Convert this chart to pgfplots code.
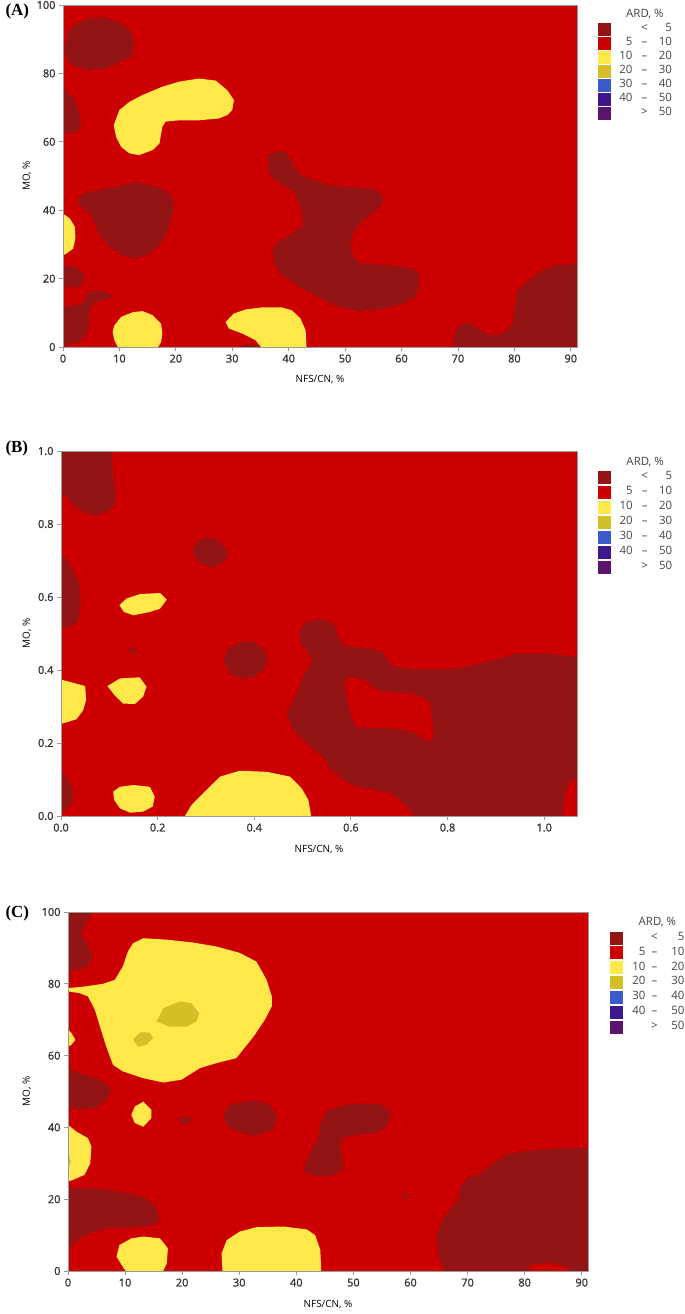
\documentclass[border=0pt]{standalone}
\usepackage{fontspec}
\setmainfont{Open Sans}
\newfontfamily\tickfont{Open Sans}[FakeBold=1.2]
\newfontfamily\serifb{Liberation Serif}
\usepackage{pgfplots}
\pgfplotsset{compat=1.18}
\definecolor{cA}{HTML}{921414}
\definecolor{cB}{HTML}{CC0000}
\definecolor{cC}{HTML}{FFE94A}
\definecolor{cD}{HTML}{D4BF26}
\definecolor{cE}{HTML}{3C5AC8}
\definecolor{cF}{HTML}{3C188C}
\definecolor{cG}{HTML}{5A146E}
\definecolor{tickc}{HTML}{333333}
\definecolor{labc}{HTML}{444444}
\definecolor{framec}{HTML}{9A9A9A}
\pgfplotsset{
  sq/.style={legend image code/.code={\fill[#1] (0bp,-6bp) rectangle (12bp,6bp);}},
  reg/.style={forget plot, draw=none, fill=#1, mark=none},
  panel/.style={
    scale only axis, axis on top,
    axis background/.style={fill=cB},
    axis line style={draw=framec, line width=0.8bp},
    every tick/.style={draw=framec, line width=0.8bp},
    major tick length=4bp, tick align=outside,
    xtick pos=bottom, ytick pos=left,
    ticklabel style={font=\tickfont\fontsize{11}{12}\selectfont, text=tickc},
    /pgf/number format/assume math mode=true,
    label style={font=\fontsize{14.5}{16}\selectfont, text=labc},
    xlabel={NFS/CN, \%}, ylabel={MO, \%},
    legend cell align=left,
  },
  leg/.style={legend style={draw=none, fill=none, inner sep=0pt, outer sep=0pt,
    column sep=2bp, font=\fontsize{11.5}{12}\selectfont, text=labc,
    cells={anchor=west},
    nodes={inner sep=0pt, text height=8.5bp, text depth=3.5bp}}},
}
% legend: #1 title width, #2 #3 #4 column widths
\newcommand{\ardlegend}[4]{%
  \addlegendimage{empty legend}\addlegendentry{\makebox[#1][c]{ARD, \%}}
  \addlegendimage{sq=cA}\addlegendentry{\makebox[#2][r]{}\makebox[#3][c]{<}\makebox[#4][r]{5}}
  \addlegendimage{sq=cB}\addlegendentry{\makebox[#2][r]{5}\makebox[#3][c]{–}\makebox[#4][r]{10}}
  \addlegendimage{sq=cC}\addlegendentry{\makebox[#2][r]{10}\makebox[#3][c]{–}\makebox[#4][r]{20}}
  \addlegendimage{sq=cD}\addlegendentry{\makebox[#2][r]{20}\makebox[#3][c]{–}\makebox[#4][r]{30}}
  \addlegendimage{sq=cE}\addlegendentry{\makebox[#2][r]{30}\makebox[#3][c]{–}\makebox[#4][r]{40}}
  \addlegendimage{sq=cF}\addlegendentry{\makebox[#2][r]{40}\makebox[#3][c]{–}\makebox[#4][r]{50}}
  \addlegendimage{sq=cG}\addlegendentry{\makebox[#2][r]{}\makebox[#3][c]{>}\makebox[#4][r]{50}}
}
\begin{document}
\begin{tikzpicture}
\useasboundingbox (0,0) rectangle (685bp,-1314bp);
% ---------------- (A) ----------------
\begin{axis}[panel, leg, at={(63bp,-347bp)}, anchor=south west,
  width=514bp, height=342bp, xmin=0, xmax=91.1, ymin=0, ymax=100,
  xtick={0,10,...,90}, ytick={0,20,...,100},
  every axis x label/.style={at={(axis description cs:0.5,-0.0965)}, anchor=center},
  every axis y label/.style={at={(axis description cs:-0.070,0.5)}, rotate=90, anchor=center},
  legend style={at={(axis description cs:1.0409,0.9883)}, anchor=north west, row sep=1.7bp}]
\addplot[reg=cA] coordinates {(0.3,86.8)(0.9,92.2)(2.4,94.6)(4.7,96.1)(7.1,96.4)(10.0,95.1)(12.1,92.2)(12.6,88.8)(12.4,85.4)(10.6,83.7)(7.6,81.5)(4.7,81.0)(2.1,82.0)(0.9,83.4)};
\addplot[reg=cA] coordinates {(-1,76)(0,76)(2.1,72.2)(2.9,68.3)(3.2,64.9)(2.6,62.9)(0,62.4)(-1,62.4)};
\addplot[reg=cA] coordinates {(2.4,42.9)(3.5,44.9)(6.5,45.9)(10.0,47.0)(12.9,48.3)(17.6,46.3)(19.4,43.9)(19.7,41.0)(18.8,35.1)(17.6,30.7)(15.3,27.3)(12.9,25.9)(10.6,26.8)(8.2,29.3)(6.2,33.2)(5.6,36.6)(4.7,39.0)(2.9,41.5)};
\addplot[reg=cA] coordinates {(-1,23.9)(2.4,23.4)(3.8,21.0)(3.5,18.5)(2.6,17.6)(-1,17.4)};
\addplot[reg=cA] coordinates {(-1,11.5)(3.2,12.5)(4.7,16.1)(5.9,16.6)(7.6,16.1)(9.1,14.6)(6.8,13.7)(5.3,12.7)(4.7,10.2)(4.6,6.8)(4.0,3.4)(2.9,1.5)(0.6,0.5)(-1,-1)};
\addplot[reg=cA] coordinates {(31,-1)(31,0)(33,0.9)(35.5,0)(35.5,-1)};
\addplot[reg=cA] coordinates {(36.2,56.1)(38.8,57.4)(39.7,56.6)(40.6,53.7)(42.1,50.2)(44.7,48.8)(47.4,47.3)(50.3,46.8)(54.4,46.3)(56.2,45.4)(56.8,42.4)(55.0,39.3)(52.9,36.6)(51.5,33.7)(50.9,30.2)(51.5,26.3)(52.6,24.4)(57.9,23.9)(62.1,22.9)(63.1,21.5)(63.1,17.6)(62.4,14.6)(60.3,12.7)(56.8,11.2)(52.6,10.5)(49.1,11.7)(47.4,12.7)(44.7,15.1)(41.8,17.6)(38.8,21.0)(37.4,24.4)(37.1,28.8)(38.2,30.7)(40.6,33.2)(42.6,35.6)(42.1,41.0)(40.9,45.4)(37.6,48.8)(36.5,50.7)};
\addplot[reg=cA] coordinates {(69.1,-1)(69.4,3.9)(70.3,6.3)(71.8,7.3)(73.2,5.9)(75.0,3.9)(76.8,3.4)(78.5,4.4)(79.7,6.8)(80.0,10.7)(80.6,16.6)(82.6,19.5)(84.7,22.4)(87.4,23.9)(90.9,24.4)(92,24.4)(92,-1)};
\addplot[reg=cC] coordinates {(9.0,64.9)(10.0,69.3)(11.8,71.7)(14.1,73.7)(17.6,76.1)(20.6,77.6)(24.1,78.5)(27.1,77.9)(29.1,75.1)(30.3,72.2)(30.0,69.3)(29.1,67.8)(27.6,66.8)(24.1,66.3)(20.6,66.3)(18.2,65.9)(17.6,64.4)(17.4,62.4)(17.1,59.5)(15.9,57.6)(13.5,56.1)(11.8,56.6)(10.3,58.5)(9.4,61.5)};
\addplot[reg=cC] coordinates {(-1,39)(0,39)(1.2,37.6)(2.1,35.1)(2.2,31.7)(1.8,28.8)(0.6,27.3)(0,26.8)(-1,26.8)};
\addplot[reg=cC] coordinates {(9.1,6.3)(10.3,8.8)(12.4,10.2)(14.1,10.5)(15.9,9.3)(17.4,6.8)(17.6,3.9)(17.4,1.5)(16.5,-1)(10,-1)(9.1,2.0)(8.8,4.4)};
\addplot[reg=cC] coordinates {(28.8,7.3)(30.3,9.8)(32.4,11.0)(35.3,11.6)(38.8,11.6)(40.6,10.7)(42.1,8.3)(43.0,4.9)(43.2,-1)(35.6,-1)(34.1,2.0)(31.8,3.9)(29.4,5.4)};
\ardlegend{65bp}{20bp}{24bp}{15.5bp}
\end{axis}
\node[anchor=base west, font=\serifb\bfseries\fontsize{17}{18}\selectfont] at (2bp,-15bp) {(A)};
% ---------------- (B) ----------------
\begin{axis}[panel, leg, at={(61bp,-816bp)}, anchor=south west,
  width=516bp, height=365bp, xmin=0, xmax=1.068, ymin=0, ymax=1,
  xtick={0,0.2,0.4,0.6,0.8,1.0}, ytick={0,0.2,0.4,0.6,0.8,1.0},
  ticklabel style={/pgf/number format/fixed, /pgf/number format/fixed zerofill, /pgf/number format/precision=1},
  every axis x label/.style={at={(axis description cs:0.5,-0.093)}, anchor=center},
  every axis y label/.style={at={(axis description cs:-0.0659,0.5)}, rotate=90, anchor=center},
  legend style={at={(axis description cs:1.0413,0.9844)}, anchor=north west, row sep=2.5bp}]
\addplot[reg=cA] coordinates {(-0.01,1.01)(0.105,1.01)(0.107,0.938)(0.114,0.883)(0.112,0.856)(0.101,0.838)(0.077,0.824)(0.053,0.828)(0.029,0.847)(0.012,0.874)(-0.01,0.892)};
\addplot[reg=cA] coordinates {(-0.01,0.724)(0,0.724)(0.019,0.687)(0.039,0.637)(0.041,0.582)(0.036,0.536)(0.019,0.518)(0,0.514)(-0.01,0.514)};
\addplot[reg=cA] coordinates {(0.272,0.724)(0.281,0.751)(0.301,0.765)(0.326,0.755)(0.346,0.724)(0.339,0.696)(0.315,0.682)(0.288,0.692)};
\addplot[reg=cA] coordinates {(0.134,0.453)(0.150,0.462)(0.158,0.445)};
\addplot[reg=cA] coordinates {(0.336,0.427)(0.346,0.459)(0.370,0.477)(0.398,0.477)(0.422,0.454)(0.429,0.427)(0.419,0.400)(0.398,0.380)(0.370,0.377)(0.350,0.391)};
\addplot[reg=cA] coordinates {(-0.01,0.130)(0,0.130)(0.015,0.099)(0.027,0.067)(0.022,0.035)(0.008,0.016)(0,0.007)(-0.01,0.007)};
\addplot[reg=cA] coordinates {(0.494,0.509)(0.508,0.532)(0.536,0.538)(0.557,0.532)(0.568,0.518)(0.574,0.491)(0.588,0.464)(0.640,0.459)(0.664,0.450)(0.678,0.423)(0.688,0.409)(0.730,0.402)(0.819,0.404)(0.881,0.422)(0.943,0.445)(1.006,0.445)(1.08,0.434)(1.08,0.117)(1.050,0.089)(1.043,0.062)(1.040,0.026)(1.040,-0.01)(0.737,-0.01)(0.716,0.026)(0.685,0.062)(0.654,0.071)(0.612,0.080)(0.585,0.099)(0.557,0.130)(0.543,0.162)(0.508,0.199)(0.481,0.235)(0.467,0.279)(0.488,0.336)(0.505,0.391)(0.521,0.427)(0.508,0.454)(0.494,0.482)};
\addplot[reg=cB] coordinates {(0.588,0.374)(0.599,0.381)(0.627,0.375)(0.645,0.354)(0.666,0.340)(0.723,0.336)(0.751,0.325)(0.763,0.308)(0.768,0.267)(0.771,0.217)(0.764,0.203)(0.743,0.217)(0.730,0.231)(0.681,0.240)(0.612,0.243)(0.602,0.267)(0.595,0.308)(0.588,0.349)};
\addplot[reg=cC] coordinates {(0.121,0.578)(0.136,0.596)(0.163,0.608)(0.205,0.611)(0.219,0.593)(0.205,0.568)(0.184,0.559)(0.150,0.550)(0.130,0.559)};
\addplot[reg=cC] coordinates {(-0.01,0.374)(0,0.374)(0.050,0.356)(0.052,0.318)(0.046,0.290)(0.032,0.265)(0,0.252)(-0.01,0.252)};
\addplot[reg=cC] coordinates {(0.096,0.356)(0.122,0.377)(0.163,0.380)(0.177,0.354)(0.170,0.327)(0.153,0.307)(0.128,0.308)(0.111,0.331)};
\addplot[reg=cC] coordinates {(0.108,0.067)(0.122,0.080)(0.150,0.085)(0.184,0.080)(0.194,0.053)(0.190,0.026)(0.170,0.012)(0.143,0.009)(0.122,0.021)(0.110,0.044)};
\addplot[reg=cC] coordinates {(0.252,-0.01)(0.270,0.030)(0.294,0.062)(0.329,0.108)(0.370,0.124)(0.426,0.121)(0.474,0.108)(0.498,0.076)(0.512,0.044)(0.519,-0.01)};
\ardlegend{65bp}{20bp}{24bp}{15.5bp}
\end{axis}
\node[anchor=base west, font=\serifb\bfseries\fontsize{17}{18}\selectfont] at (2bp,-452.5bp) {(B)};
% ---------------- (C) ----------------
\begin{axis}[panel, leg, at={(68bp,-1271bp)}, anchor=south west,
  width=520bp, height=359bp, xmin=0, xmax=91.1, ymin=0, ymax=100,
  xtick={0,10,...,90}, ytick={0,20,...,100},
  every axis x label/.style={at={(axis description cs:0.5,-0.0947)}, anchor=center},
  every axis y label/.style={at={(axis description cs:-0.0788,0.5)}, rotate=90, anchor=center},
  legend style={at={(axis description cs:1.0423,0.9861)}, anchor=north west, row sep=2.5bp}]
\addplot[reg=cA] coordinates {(-1,101)(4.7,101)(3.2,96.9)(2.3,93.7)(3.5,90.9)(4.3,87.6)(3.5,84.8)(1.8,83.9)(-1,83.4)};
\addplot[reg=cA] coordinates {(-1,56.5)(0,56.5)(2.0,55.1)(5.6,53.4)(7.6,50.5)(6.7,47.7)(5.0,45.6)(2.6,44.9)(0,45.6)(-1,45.6)};
\addplot[reg=cA] coordinates {(19.3,42.8)(21.6,42.8)(21.2,41.4)(19.9,41.0)};
\addplot[reg=cA] coordinates {(27.2,43.5)(28.4,46.3)(32.5,47.5)(35.4,46.3)(36.7,43.0)(35.9,39.3)(32.5,37.7)(29.5,38.8)(27.8,40.7)};
\addplot[reg=cA] coordinates {(-1,23.3)(5.0,23.0)(9.1,22.1)(13.2,20.7)(15.2,18.4)(16.1,14.7)(15.2,12.8)(11.4,12.2)(7.3,11.9)(4.4,11.0)(2.0,9.1)(0,5.9)(-1,5.9)};
\addplot[reg=cA] coordinates {(41.2,28.2)(42.4,32.8)(43.9,37.5)(44.2,41.2)(45.3,44.4)(45.9,45.1)(48.8,46.3)(51.7,46.7)(54.4,46.5)(56.1,44.9)(56.5,43.0)(55.8,40.2)(54.1,38.6)(50.6,37.9)(48.3,37.3)(47.6,35.6)(48.0,31.9)(48.3,28.6)(46.8,27.0)(45.9,26.5)(44.2,26.3)(41.8,27.2)};
\addplot[reg=cA] coordinates {(58.5,21.7)(59.9,21.2)(59.0,20.0)};
\addplot[reg=cA] coordinates {(66.0,-1)(64.9,4.9)(64.5,9.6)(65.5,14.2)(66.9,17.0)(68.4,20.3)(68.7,23.5)(70.4,26.3)(72.2,27.0)(74.5,30.0)(77.4,32.8)(82.1,33.7)(86.7,34.2)(92,34.2)(92,-1)};
\addplot[reg=cB] coordinates {(80.6,-1)(80.9,1.7)(84.4,2.3)(87.3,1.2)(88.8,-1)};
\addplot[reg=cC] coordinates {(-1,78.8)(0,78.8)(3.2,79.3)(6.1,80.0)(8.2,81.1)(9.6,84.8)(10.5,89.0)(11.4,91.3)(13.2,92.7)(17.3,92.3)(21.9,91.5)(26.0,90.4)(30.1,88.6)(33.0,86.2)(34.8,81.1)(35.7,76.5)(35.7,73.7)(34.5,70.0)(32.5,65.3)(29.5,59.3)(26.0,57.9)(23.1,56.5)(19.9,53.3)(16.7,52.5)(13.2,53.7)(9.6,55.6)(7.9,57.4)(6.7,62.5)(5.6,68.1)(4.7,72.8)(3.5,76.5)(2.0,77.4)(0,77.9)(-1,77.9)};
\addplot[reg=cC] coordinates {(-1,67.2)(0,67.2)(0.6,66.3)(1.3,64.4)(0.6,63.0)(0,62.5)(-1,62.5)};
\addplot[reg=cC] coordinates {(11.1,43.5)(11.7,45.8)(13.2,47.2)(14.6,44.9)(14.6,42.6)(13.2,40.2)(11.7,41.2)};
\addplot[reg=cC] coordinates {(-1,40.7)(0,40.7)(1.5,38.8)(3.5,37.0)(4.1,34.7)(3.9,30.0)(2.9,26.8)(1.2,25.6)(0,24.9)(-1,24.9)};
\addplot[reg=cC] coordinates {(8.5,4.0)(9.0,7.2)(11.1,9.1)(13.2,9.6)(16.1,9.1)(17.5,6.3)(17.3,2.1)(16.4,-1)(10.5,-1)(9.4,1.7)};
\addplot[reg=cC] coordinates {(27.1,-1)(26.9,4.9)(27.8,8.6)(30.1,11.0)(33.0,12.2)(37.7,12.4)(41.8,11.6)(43.3,10.0)(44.2,5.9)(44.4,-1)};
\addplot[reg=cD] coordinates {(15.5,69.5)(16.7,73.2)(19.6,75.1)(21.6,74.6)(23.0,71.8)(22.5,69.5)(20.8,68.1)(17.8,68.1)};
\addplot[reg=cD] coordinates {(11.4,64.4)(12.6,66.5)(14.3,66.4)(14.9,64.9)(13.7,63.0)(12.3,62.5)};
\addplot[reg=cD] coordinates {(-1,33.3)(0,33.3)(0.5,30.5)(0,28.2)(-1,28.2)};
\ardlegend{66bp}{21bp}{18bp}{21bp}
\end{axis}
\node[anchor=base west, font=\serifb\bfseries\fontsize{17}{18}\selectfont] at (2bp,-917bp) {(C)};
\end{tikzpicture}
\end{document}
